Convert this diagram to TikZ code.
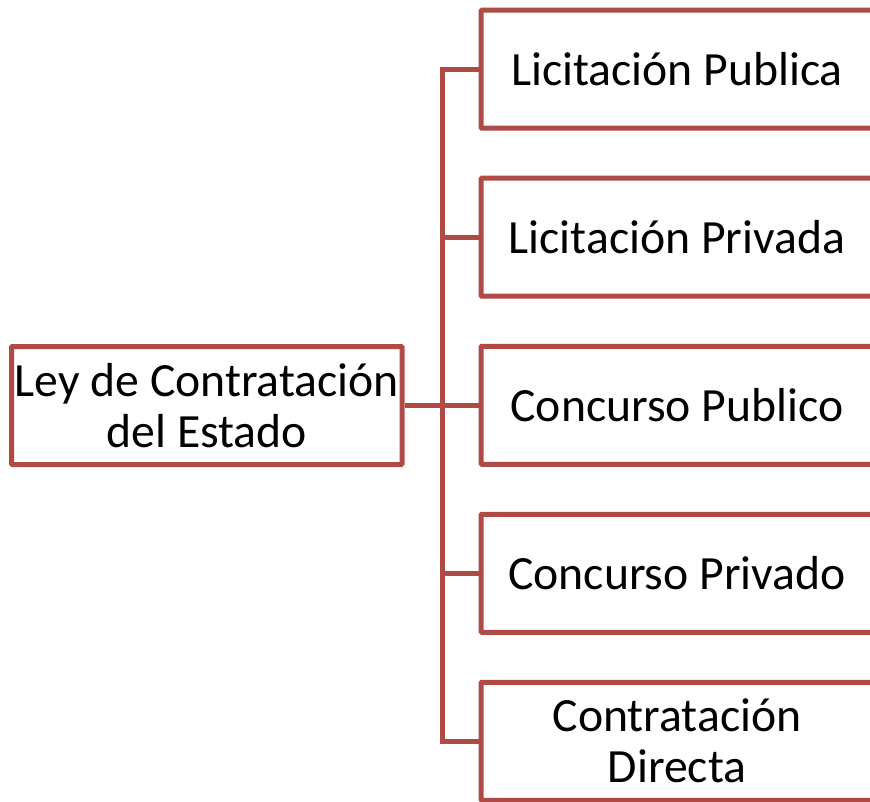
\documentclass[tikz,border=0pt]{standalone}
\usepackage{fontspec}
\setmainfont{Carlito}
\definecolor{boxred}{RGB}{176,74,71}
\begin{document}
\begin{tikzpicture}[x=1pt,y=-1pt,
  box/.style={draw=boxred, line width=5pt, fill=white, align=center,
    font=\fontsize{47.7}{51}\selectfont, inner sep=0pt, rounded corners=1pt},
  leftbox/.style={box, minimum width=390.5pt, minimum height=118pt},
  rightbox/.style={box, minimum width=392pt, minimum height=118pt},
  link/.style={draw=boxred, line width=5pt}]
\useasboundingbox (0,0) rectangle (870,802);
\node[leftbox] (L) at (206.75,405.5) {Ley de Contratación\\del Estado};
\node[rightbox] (r1) at (677,69.25) {Licitación Publica};
\node[rightbox] (r2) at (677,237.25) {Licitación Privada};
\node[rightbox] (r3) at (677,405.25) {Concurso Publico};
\node[rightbox] (r4) at (677,573.25) {Concurso Privado};
\node[rightbox] (r5) at (677,741.25) {Contratación\\Directa};
\coordinate (trunk) at (442,405.5);
\draw[link] (L.east) -- (trunk);
\draw[link] (trunk) |- (r1.west);
\draw[link] (trunk) |- (r2.west);
\draw[link] (trunk) |- (r3.west);
\draw[link] (trunk) |- (r4.west);
\draw[link] (trunk) |- (r5.west);
\end{tikzpicture}
\end{document}
